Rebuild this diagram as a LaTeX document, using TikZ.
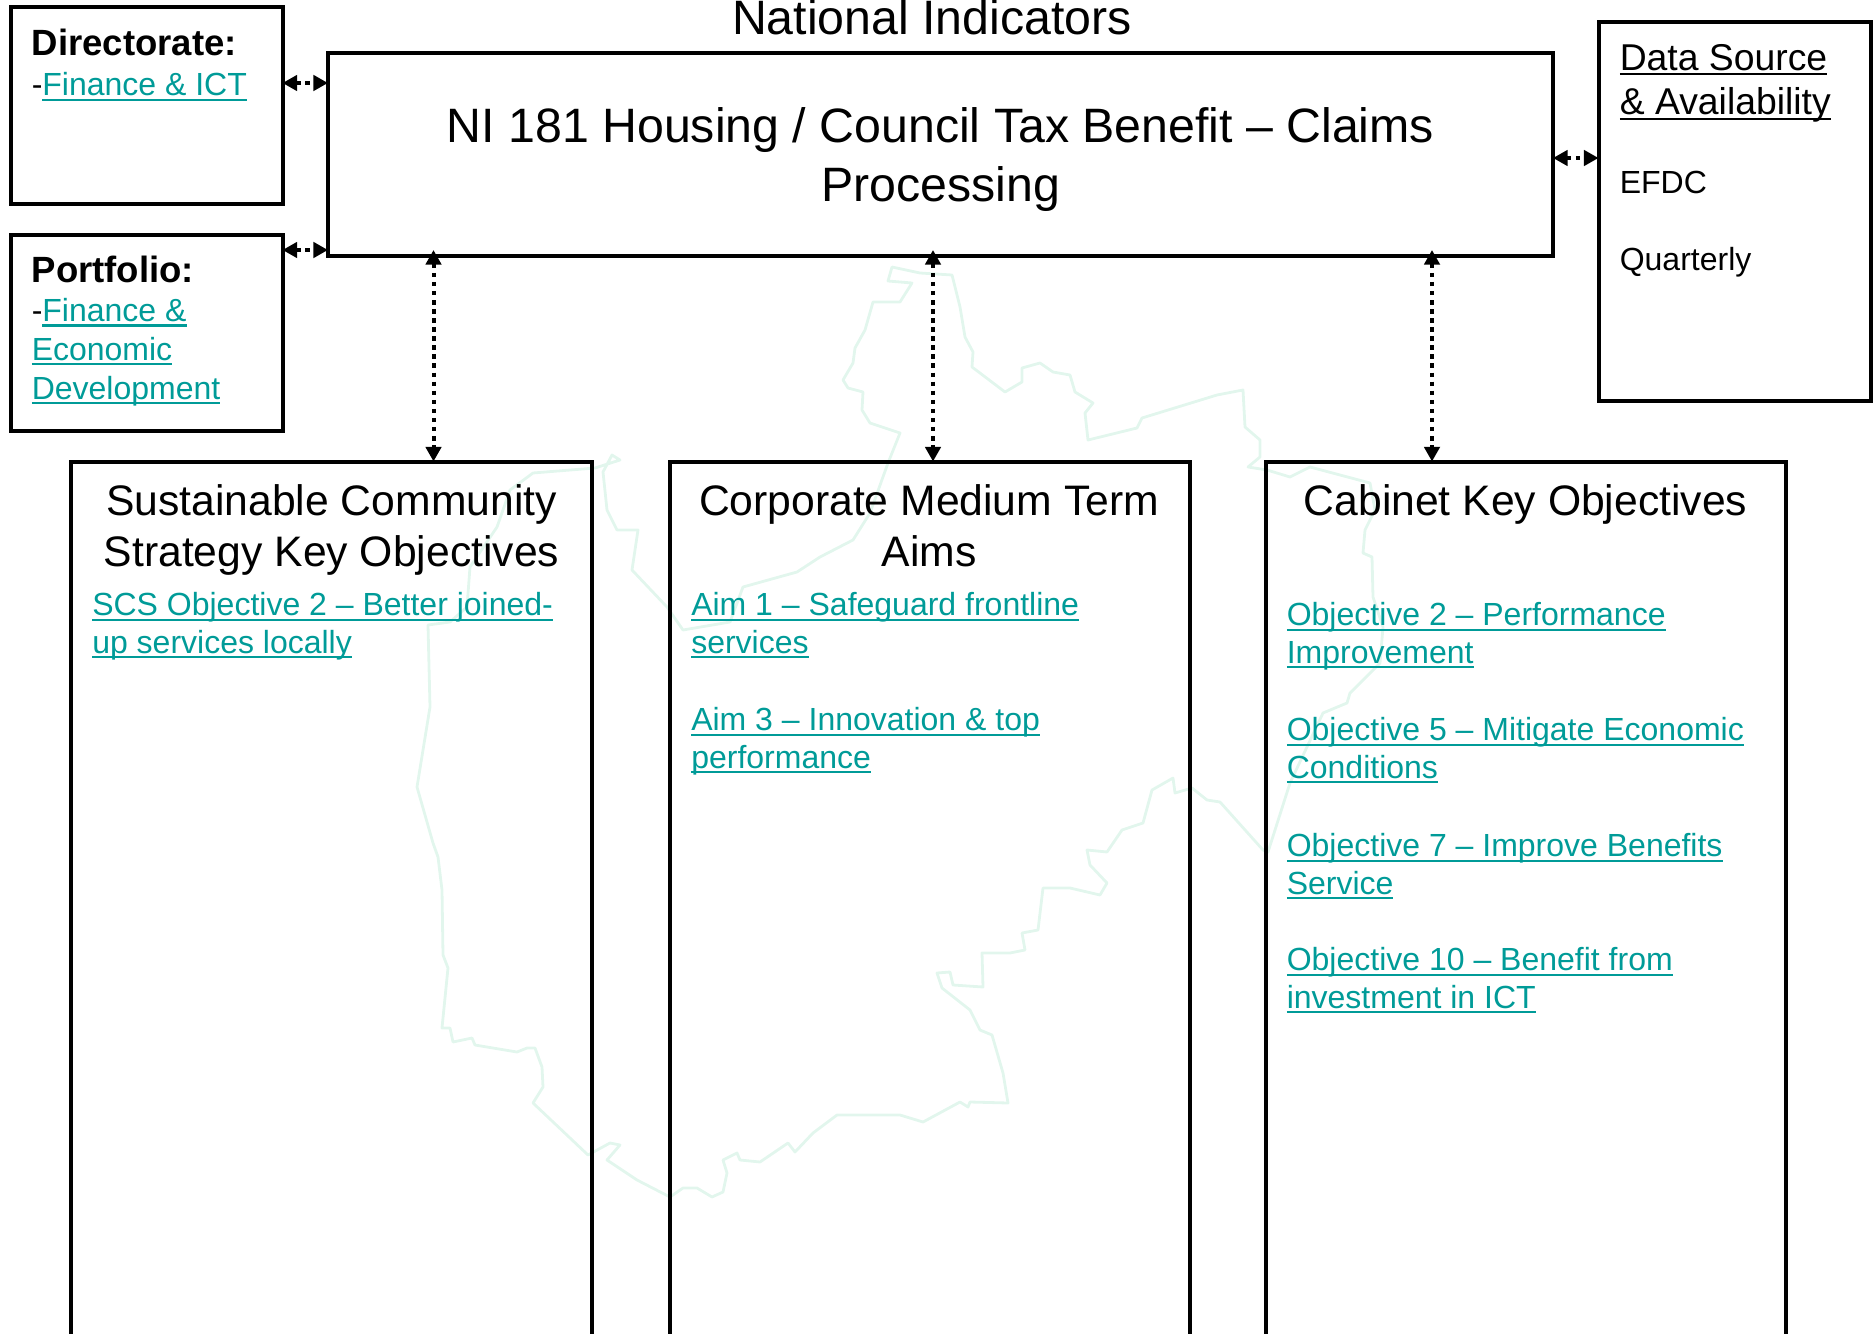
\documentclass[tikz,border=0pt]{standalone}
\usepackage{fontspec}
\setmainfont{Liberation Sans}
\usetikzlibrary{arrows.meta,fit}
\definecolor{linkteal}{HTML}{009B98}
\definecolor{mapgreen}{HTML}{E2F6ED}
\newsavebox{\ulinebox}
\newcommand{\ulinetext}[1]{\sbox{\ulinebox}{#1}\rlap{\vrule width\wd\ulinebox height -2.05pt depth 3.75pt}\usebox{\ulinebox}}
\newcommand{\linktext}[1]{{\color{linkteal}\ulinetext{#1}}}
\tikzset{
  boxframe/.style={draw,line width=3pt,inner sep=0pt,outer sep=0pt},
  twoway/.style={{Triangle[width=11.5pt,length=11pt]}-{Triangle[width=11.5pt,length=11pt]},line width=3pt,dash pattern=on 3.4pt off 3.4pt},
  titletext/.style={inner sep=0pt,align=center,anchor=base,font=\fontsize{36.2}{44}\selectfont},
  headtext/.style={inner sep=0pt,align=center,anchor=base,font=\fontsize{32}{37.9}\selectfont},
  bodytext/.style={inner sep=0pt,align=left,anchor=base west,font=\fontsize{24}{27.9}\selectfont},
  boldtext/.style={inner sep=0pt,anchor=base west,font=\fontsize{27.4}{32}\selectfont\bfseries},
  sourcetext/.style={inner sep=0pt,align=left,anchor=base west,font=\fontsize{28}{33.6}\selectfont}
}
\begin{document}
\begin{tikzpicture}[x=0.75pt,y=0.75pt,yscale=-1,xscale=1]
\clip (0,0) rectangle (1874,1334);

%Shape: Map outline
\draw [color=mapgreen,line width=2.1pt,line join=round] (892,267) -- (888,281) -- (912,283) -- (900,302) -- (873,302) -- (865,330) -- (855,348) -- (853,363) -- (843,380) -- (848,388) -- (863,392) -- (862,410) -- (870,423) -- (900,433) -- (888,463) -- (870,513) -- (853,540) -- (820,557) -- (797,572) -- (743,587) -- (730,622) -- (683,630) -- (667,607) -- (632,570) -- (638,530) -- (617,530) -- (607,510) -- (603,472) -- (612,455) -- (620,460) -- (595,468) -- (533,473) -- (510,490) -- (497,527) -- (470,567) -- (467,607) -- (450,622) -- (428,625) -- (430,707) -- (417,787) -- (433,843) -- (438,857) -- (442,890) -- (443,955) -- (448,968) -- (442,1028) -- (450,1028) -- (453,1042) -- (472,1038) -- (475,1045) -- (517,1052) -- (527,1048) -- (535,1048) -- (542,1067) -- (543,1087) -- (533,1103) -- (588,1155) -- (610,1143) -- (620,1145) -- (607,1160) -- (637,1180) -- (670,1197) -- (683,1188) -- (697,1188) -- (712,1197) -- (723,1192) -- (727,1173) -- (723,1160) -- (737,1153) -- (740,1160) -- (760,1162) -- (788,1143) -- (795,1152) -- (813,1133) -- (837,1115) -- (900,1115) -- (923,1122) -- (960,1102) -- (968,1107) -- (970,1102) -- (1008,1103) -- (1003,1073) -- (992,1035) -- (980,1030) -- (970,1010) -- (942,988) -- (937,973) -- (950,972) -- (953,985) -- (983,987) -- (982,953) -- (1010,953) -- (1025,950) -- (1022,933) -- (1038,930) -- (1043,888) -- (1070,888) -- (1100,895) -- (1107,883) -- (1090,865) -- (1087,850) -- (1107,852) -- (1122,830) -- (1143,823) -- (1152,790) -- (1173,778) -- (1175,793) -- (1192,788) -- (1207,800) -- (1220,802) -- (1263,850) -- (1268,852) -- (1290,783) -- (1323,713) -- (1347,703) -- (1350,693) -- (1380,663) -- (1383,627) -- (1373,597) -- (1372,557) -- (1363,553) -- (1365,530) -- (1375,510) -- (1370,483) -- (1310,467) -- (1290,477) -- (1267,470) -- (1248,467) -- (1260,457) -- (1260,440) -- (1245,427) -- (1243,390) -- (1217,395) -- (1142,418) -- (1137,428) -- (1088,440) -- (1085,413) -- (1093,403) -- (1075,392) -- (1070,375) -- (1053,372) -- (1040,363) -- (1022,368) -- (1022,382) -- (1005,392) -- (972,367) -- (973,352) -- (965,337) -- (960,307) -- (952,275) -- (920,273) -- cycle ;

%Shape: Rectangle
\node [boxframe,fit={(10.5,7.5) (282.5,204)}] (dirbox) {};
\node [boxframe,fit={(10.5,234.5) (282.5,431)}] (portbox) {};
\node [boxframe,fit={(328,53) (1553,256)}] (nibox) {};
\node [boxframe,fit={(1598.5,22) (1871,401)}] (databox) {};
\node [boxframe,fit={(71,461.5) (592,1400)}] (scsbox) {};
\node [boxframe,fit={(670,461.5) (1190,1400)}] (cmtbox) {};
\node [boxframe,fit={(1266,461.5) (1786,1400)}] (cabbox) {};

%Straight Lines
\draw [twoway] (dirbox.east |- 0,83) -- (nibox.west |- 0,83) ;
\draw [twoway] (portbox.east |- 0,250) -- (nibox.west |- 0,250) ;
\draw [twoway] (nibox.east |- 0,158) -- (databox.west |- 0,158) ;
\draw [twoway,shorten <=-4.5pt] (nibox.south -| 433.5,0) -- (scsbox.north -| 433.5,0) ;
\draw [twoway,shorten <=-4.5pt] (nibox.south -| 933,0) -- (cmtbox.north -| 933,0) ;
\draw [twoway,shorten <=-4.5pt] (nibox.south -| 1432,0) -- (cabbox.north -| 1432,0) ;

%Text
\node [titletext] (nilabel) at (932,35) {National Indicators};
\node [titletext] (nititle) at (940.5,201.5) {NI 181 Housing / Council Tax Benefit – Claims\\Processing};

\node [boldtext] (dirhead) at (31.5,56) {Directorate:};
\node [bodytext] (dirlink) at (31.5,96) {-\linktext{Finance \& ICT}};
\node [boldtext] (porthead) at (31.5,282) {Portfolio:};
\node [bodytext,font=\fontsize{24}{29}\selectfont] (portlink) at (31.5,399) {-\linktext{Finance \&}\\\linktext{Economic}\\\linktext{Development}};

\node [sourcetext] (datahead) at (1619.5,115) {\ulinetext{Data Source}\\\ulinetext{\& Availability}};
\node [bodytext] (dataorg) at (1619.5,194) {EFDC};
\node [bodytext] (datafreq) at (1619.5,270) {Quarterly};

\node [headtext] (scshead) at (331.5,566) {Sustainable Community\\Strategy Key Objectives};
\node [headtext] (cmthead) at (929,566) {Corporate Medium Term\\Aims};
\node [headtext] (cabhead) at (1525.5,515) {Cabinet Key Objectives};

\node [bodytext] (scsone) at (92,653) {\linktext{SCS Objective 2 – Better joined-}\\\linktext{up services locally}};
\node [bodytext] (cmtone) at (691,653) {\linktext{Aim 1 – Safeguard frontline}\\\linktext{services}};
\node [bodytext] (cmttwo) at (691,768) {\linktext{Aim 3 – Innovation \& top}\\\linktext{performance}};
\node [bodytext] (cabone) at (1286.5,663) {\linktext{Objective 2 – Performance}\\\linktext{Improvement}};
\node [bodytext] (cabtwo) at (1286.5,778) {\linktext{Objective 5 – Mitigate Economic}\\\linktext{Conditions}};
\node [bodytext] (cabthree) at (1286.5,894) {\linktext{Objective 7 – Improve Benefits}\\\linktext{Service}};
\node [bodytext] (cabfour) at (1286.5,1008) {\linktext{Objective 10 – Benefit from}\\\linktext{investment in ICT}};

\end{tikzpicture}
\end{document}
